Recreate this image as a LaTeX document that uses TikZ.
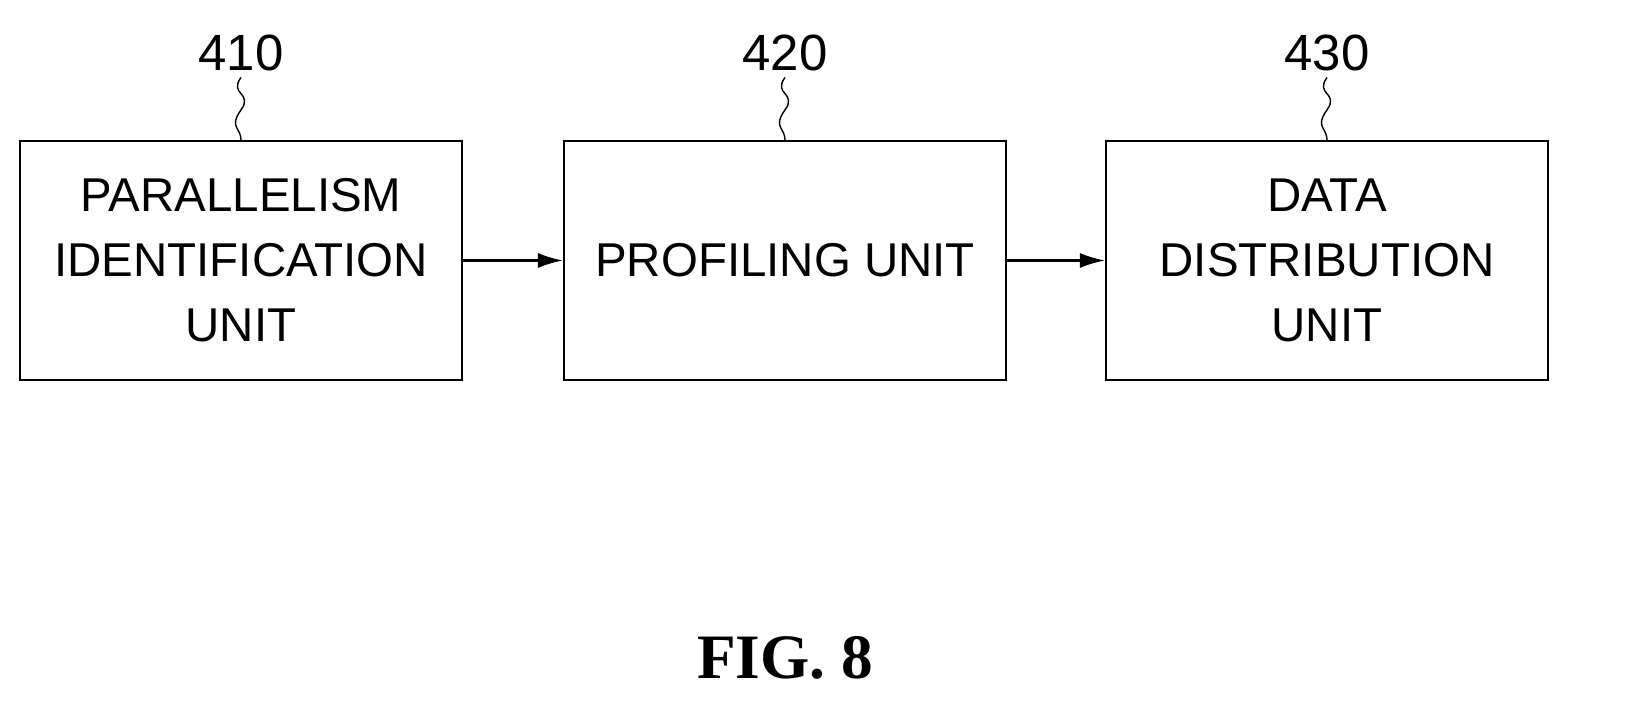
\documentclass[tikz,border=0pt]{standalone}
\usepackage{fontspec}
\setmainfont{Liberation Sans}
\newfontfamily\figfont{Liberation Serif}
\usetikzlibrary{arrows.meta}
\usetikzlibrary{positioning}
\tikzset{
    unit box/.style={
        draw,
        line width=1.2pt,
        minimum width=8.84cm,
        minimum height=4.78cm,
        align=center,
        font=\fontsize{27}{37}\selectfont,
    },
    ref label/.style={
        font=\fontsize{29}{36}\selectfont,
    },
    flow arrow/.style={
        line width=1.2pt,
        -{Latex[length=5mm,width=3mm]},
    },
    lead wiggle/.style={
        line width=0.8pt,
    },
}
\begin{document}
\begin{tikzpicture}
    \useasboundingbox (0,0) rectangle (32.7,14.56);

    \node[unit box] (ident) at (4.82, 9.35) {PARALLELISM\\IDENTIFICATION\\UNIT};
    \node[unit box] (prof) at (15.7, 9.35) {PROFILING UNIT};
    \node[unit box] (dist) at (26.54, 9.35) {DATA\\DISTRIBUTION\\UNIT};

    \draw[flow arrow] (ident) -- (prof);
    \draw[flow arrow] (prof) -- (dist);

    \foreach \unit/\num in {ident/410, prof/420, dist/430}
    {
        \node[ref label, above=1.25cm of \unit.north] (lbl\num) {\num};
        \draw[lead wiggle] (lbl\num.south) .. controls +(-0.25,-0.35) and +(0.25,0.35) .. ([yshift=-0.65cm]lbl\num.south)
            .. controls +(-0.25,-0.35) and +(0,0.25) .. (\unit.north);
    }

    \node[font=\figfont\bfseries\fontsize{36}{40}\selectfont] (caption) at (15.7, 1.4) {FIG. 8};
\end{tikzpicture}
\end{document}
